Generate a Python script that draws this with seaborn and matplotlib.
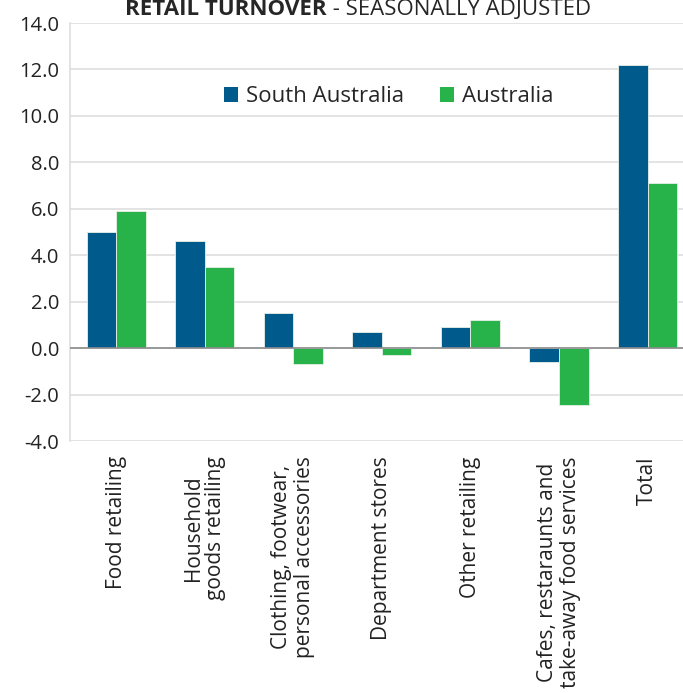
import pandas as pd
import matplotlib.pyplot as plt
import seaborn as sns
from matplotlib.patches import Patch

# values (% change)
categories = ["Food retailing", "Household\ngoods retailing",
              "Clothing, footwear,\npersonal accessories", "Department stores",
              "Other retailing", "Cafes, restaraunts and\ntake-away food services", "Total"]
south_australia = [5.0, 4.6, 1.5, 0.7, 0.9, -0.6, 12.2]
australia = [5.9, 3.5, -0.7, -0.3, 1.2, -2.45, 7.1]
series = ["South Australia", "Australia"]
colors = ["#005a8c", "#27b34a"]
yticks = [-4, -2, 0, 2, 4, 6, 8, 10, 12, 14]

df = pd.DataFrame({
    "Category": categories * 2,
    "Series": [series[0]] * len(categories) + [series[1]] * len(categories),
    "Value": south_australia + australia,
})

sns.set_style("white")
plt.rcParams['font.family'] = ['Open Sans', 'DejaVu Sans']

fig = plt.figure(figsize=(6.83, 6.93), dpi=100)
ax = fig.add_axes([0.1025, 0.3636, 0.8975, 0.6032])

sns.barplot(data=df, x="Category", y="Value", hue="Series", hue_order=series,
            palette=colors, saturation=1, width=0.667, gap=0,
            edgecolor="#e8f0e8", linewidth=0.6, errorbar=None, ax=ax, zorder=3)

ax.set_ylim(-4, 14)
ax.set_xlim(-0.52, 6.4)
ax.set_yticks(yticks)
ax.set_yticklabels([f"{v:.1f}" for v in yticks], fontsize=14.5, color="#222222")
ax.yaxis.grid(True, color="#dedede", linewidth=1.2, zorder=0)
ax.axhline(0, color="#8c8c8c", linewidth=1.2, zorder=4)
ax.tick_params(axis="y", length=5, color="#dedede", width=1.2, pad=3)
ax.tick_params(axis="x", length=0, pad=11)

ax.set_xticks(range(len(categories)))
ax.set_xticklabels(categories, rotation=90, fontsize=15, color="#222222",
                   va="top", ha="center", multialignment="center", linespacing=1.1)
ax.set_xlabel("")
ax.set_ylabel("")

for side in ["top", "right", "bottom"]:
    ax.spines[side].set_visible(False)
ax.spines["left"].set_color("#dedede")
ax.spines["left"].set_linewidth(1.2)

ax.get_legend().remove()
handles = [Patch(facecolor=c, edgecolor="none") for c in colors]
ax.legend(handles, series, loc="center", bbox_to_anchor=(0.52, 0.823), ncol=2,
          frameon=False, fontsize=16, handlelength=0.65, handleheight=0.65,
          handletextpad=0.35, columnspacing=1.6)

# title, partly cut at the top edge like the reference
t1 = fig.text(0.183, 0.978, "RETAIL TURNOVER", fontsize=16, fontweight="bold",
              ha="left", va="baseline")
ax.annotate(" - SEASONALLY ADJUSTED", xy=(1, 0), xycoords=t1, fontsize=16,
            ha="left", va="bottom", annotation_clip=False)

fig.savefig("out.png", dpi=100)
